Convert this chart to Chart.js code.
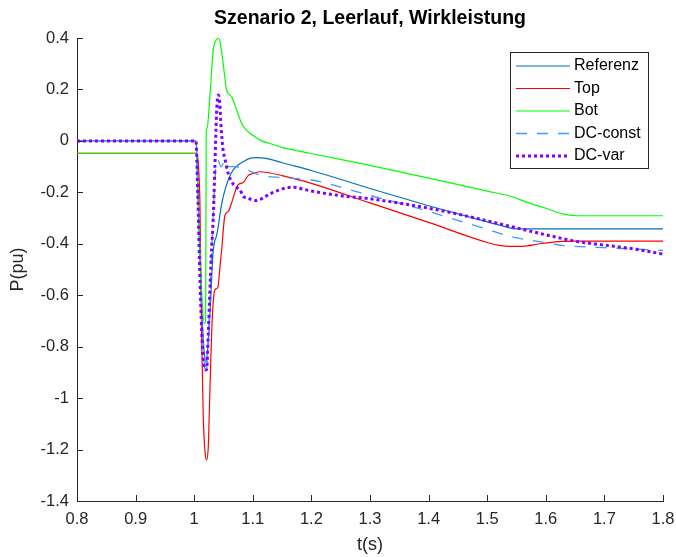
<!DOCTYPE html>
<html>
<head>
<meta charset="utf-8">
<script src="https://cdn.jsdelivr.net/npm/chart.js@4.4.0/dist/chart.umd.min.js"></script>
<style>
  html, body { margin: 0; padding: 0; background: #fff; }
  #wrap { width: 676px; height: 557px; }
</style>
</head>
<body>
<div id="wrap"><canvas id="c" width="676" height="557"></canvas></div>
<script>
// Labels
const titleText = 'Szenario 2, Leerlauf, Wirkleistung';
const xAxisLabel = 't(s)';
const yAxisLabel = 'P(pu)';
const seriesNames = ['Referenz', 'Top', 'Bot', 'DC-const', 'DC-var'];

// Axis ticks
const xTicks = [0.8, 0.9, 1.0, 1.1, 1.2, 1.3, 1.4, 1.5, 1.6, 1.7, 1.8];
const yTicks = [-1.4, -1.2, -1.0, -0.8, -0.6, -0.4, -0.2, 0, 0.2, 0.4];

// Referenz
const tRef = [0.8, 1.003, 1.007, 1.012, 1.017, 1.020, 1.024, 1.028, 1.032, 1.035, 1.038, 1.041, 1.045, 1.0495, 1.054, 1.058, 1.0666, 1.075, 1.0836, 1.095, 1.105, 1.115, 1.13, 1.15, 1.2, 1.3, 1.4, 1.5, 1.53, 1.55, 1.8];
const pRef = [0, 0, -0.25, -0.6, -0.82, -0.86, -0.78, -0.62, -0.44, -0.39, -0.37, -0.334, -0.27, -0.217, -0.18, -0.152, -0.113, -0.094, -0.081, -0.068, -0.065, -0.066, -0.072, -0.085, -0.115, -0.185, -0.252, -0.315, -0.333, -0.342, -0.342];

// Top
const tTop = [0.8, 1.003, 1.0097, 1.0126, 1.0154, 1.0185, 1.0212, 1.024, 1.0256, 1.0297, 1.0335, 1.037, 1.0404, 1.0435, 1.0468, 1.0524, 1.058, 1.064, 1.0695, 1.075, 1.0836, 1.092, 1.1007, 1.112, 1.125, 1.15, 1.2, 1.3, 1.4, 1.5, 1.52, 1.54, 1.56, 1.59, 1.63, 1.65, 1.8];
const pTop = [-0.048, -0.048, -0.23, -0.75, -1.07, -1.21, -1.24, -1.19, -1.07, -0.75, -0.6, -0.575, -0.57, -0.5, -0.425, -0.29, -0.275, -0.24, -0.2, -0.17, -0.162, -0.135, -0.127, -0.12, -0.123, -0.135, -0.165, -0.241, -0.317, -0.395, -0.406, -0.41, -0.41, -0.40, -0.391, -0.39, -0.39];

// Bot
const tBot = [0.8, 1.003, 1.008, 1.013, 1.0175, 1.0195, 1.0205, 1.022, 1.0268, 1.0324, 1.037, 1.0421, 1.046, 1.0495, 1.0553, 1.06, 1.0638, 1.0724, 1.081, 1.088, 1.095, 1.1036, 1.115, 1.129, 1.15, 1.1974, 1.3, 1.4, 1.5, 1.544, 1.567, 1.6, 1.6325, 1.655, 1.8];
const pBot = [-0.048, -0.048, -0.3, -0.6, -0.71, -0.70, 0.035, 0.05, 0.172, 0.353, 0.39, 0.399, 0.36, 0.30, 0.198, 0.18, 0.172, 0.12, 0.068, 0.045, 0.03, 0.016, 0.0, -0.01, -0.025, -0.048, -0.095, -0.145, -0.195, -0.218, -0.238, -0.262, -0.286, -0.291, -0.291];

// DC-const
const tConst = [0.8, 1.003, 1.007, 1.012, 1.017, 1.020, 1.023, 1.027, 1.0305, 1.0336, 1.037, 1.040, 1.046, 1.053, 1.060, 1.07, 1.08, 1.0916, 1.114, 1.15, 1.2, 1.25, 1.3, 1.374, 1.4875, 1.544, 1.6, 1.63, 1.7, 1.8];
const pConst = [0, 0, -0.25, -0.62, -0.86, -0.905, -0.82, -0.6, -0.4, -0.23, -0.1, -0.075, -0.1, -0.075, -0.1, -0.1, -0.105, -0.114, -0.134, -0.143, -0.152, -0.18, -0.212, -0.257, -0.335, -0.374, -0.396, -0.407, -0.415, -0.426];

// DC-var
const tVar = [0.8, 1.003, 1.006, 1.01, 1.014, 1.0185, 1.0212, 1.024, 1.029, 1.0325, 1.0353, 1.038, 1.041, 1.0435, 1.046, 1.049, 1.0524, 1.058, 1.0638, 1.072, 1.078, 1.0836, 1.092, 1.105, 1.115, 1.13, 1.155, 1.17, 1.185, 1.2, 1.25, 1.3, 1.374, 1.43, 1.4875, 1.544, 1.6, 1.65, 1.7, 1.75, 1.8];
const pVar = [0, 0, -0.2, -0.55, -0.8, -0.89, -0.89, -0.75, -0.45, -0.3, -0.1, 0.1, 0.178, 0.15, 0.05, -0.03, -0.07, -0.126, -0.159, -0.18, -0.19, -0.215, -0.223, -0.232, -0.225, -0.205, -0.184, -0.18, -0.187, -0.195, -0.213, -0.225, -0.251, -0.275, -0.304, -0.335, -0.365, -0.39, -0.405, -0.42, -0.44];

const FONT = '"Liberation Sans", Arial, Helvetica, sans-serif';
const AXIS_COLOR = '#262626';

const pts = (t, p) => t.map((x, i) => ({ x: x, y: p[i] }));

function series(label, t, p, color, width, dash, order) {
  return {
    label: label,
    data: pts(t, p),
    borderColor: color,
    backgroundColor: color,
    borderWidth: width,
    borderDash: dash,
    borderCapStyle: 'butt',
    pointRadius: 0,
    pointHoverRadius: 0,
    fill: false,
    showLine: true,
    cubicInterpolationMode: 'monotone',
    order: order
  };
}

const datasets = [
  series(seriesNames[0], tRef, pRef, '#0072BD', 1.2, [], 5),
  series(seriesNames[1], tTop, pTop, '#FF0000', 1.2, [], 4),
  series(seriesNames[2], tBot, pBot, '#00FF00', 1.2, [], 3),
  series(seriesNames[3], tConst, pConst, '#3D9BFF', 1.3, [11, 10], 2),
  series(seriesNames[4], tVar, pVar, '#8000FF', 3, [3, 3], 1)
];

const fmt = v => String(+Number(v).toFixed(1));

// Inward tick marks, axis titles, plot title and a boxed legend
const decorations = {
  id: 'decorations',
  afterDatasetsDraw(chart) {
    const ctx = chart.ctx;
    const xs = chart.scales.x, ys = chart.scales.y;
    const area = chart.chartArea;
    ctx.save();
    ctx.strokeStyle = AXIS_COLOR;
    ctx.lineWidth = 1;
    ctx.beginPath();
    xTicks.forEach(v => {
      const px = Math.round(xs.getPixelForValue(v)) + 0.5;
      ctx.moveTo(px, area.bottom);
      ctx.lineTo(px, area.bottom - 6);
    });
    yTicks.forEach(v => {
      const py = Math.round(ys.getPixelForValue(v)) + 0.5;
      ctx.moveTo(area.left, py);
      ctx.lineTo(area.left + 6, py);
    });
    ctx.stroke();
    ctx.restore();
  },
  afterDraw(chart) {
    const ctx = chart.ctx;
    const area = chart.chartArea;
    const cx = (area.left + area.right) / 2;
    ctx.save();
    // title
    ctx.fillStyle = '#000';
    ctx.font = 'bold 19.5px ' + FONT;
    ctx.textAlign = 'center';
    ctx.textBaseline = 'middle';
    ctx.fillText(titleText, cx, 19);
    // axis titles
    ctx.fillStyle = AXIS_COLOR;
    ctx.font = '18px ' + FONT;
    ctx.fillText(xAxisLabel, cx, 545);
    ctx.save();
    ctx.translate(18, (area.top + area.bottom) / 2);
    ctx.rotate(-Math.PI / 2);
    ctx.fillText(yAxisLabel, 0, 0);
    ctx.restore();

    // legend
    const bx = 510.5, by = 52.5, bw = 138, bh = 116;
    ctx.fillStyle = '#fff';
    ctx.fillRect(bx, by, bw, bh);
    ctx.strokeStyle = AXIS_COLOR;
    ctx.lineWidth = 1;
    ctx.setLineDash([]);
    ctx.strokeRect(bx, by, bw, bh);
    ctx.font = '16px ' + FONT;
    ctx.textAlign = 'left';
    ctx.textBaseline = 'middle';
    chart.data.datasets.forEach((ds, i) => {
      const y = 66 + i * 22.5;
      ctx.save();
      ctx.strokeStyle = ds.borderColor;
      ctx.lineWidth = ds.borderWidth;
      ctx.lineCap = 'butt';
      ctx.setLineDash(ds.borderDash || []);
      ctx.beginPath();
      ctx.moveTo(516, y);
      ctx.lineTo(570, y);
      ctx.stroke();
      ctx.restore();
      ctx.fillStyle = '#000';
      ctx.fillText(ds.label, 574, y);
    });
    ctx.restore();
  }
};

new Chart(document.getElementById('c'), {
  type: 'scatter',
  data: { datasets: datasets },
  options: {
    responsive: false,
    animation: false,
    events: [],
    layout: { padding: { top: 38, right: 13, left: 0, bottom: 0 } },
    plugins: {
      legend: { display: false },
      title: { display: false },
      tooltip: { enabled: false }
    },
    scales: {
      x: {
        type: 'linear',
        min: 0.8,
        max: 1.8,
        afterBuildTicks: s => { s.ticks = xTicks.map(v => ({ value: v })); },
        afterFit: s => { s.height = 56; s.paddingLeft = 0; s.paddingRight = 0; },
        grid: { display: true, drawOnChartArea: false, drawTicks: false },
        border: { display: true, color: AXIS_COLOR, width: 1 },
        ticks: {
          padding: 9,
          maxRotation: 0,
          autoSkip: false,
          color: AXIS_COLOR,
          font: { family: FONT, size: 16.5 },
          callback: v => fmt(v)
        }
      },
      y: {
        type: 'linear',
        min: -1.4,
        max: 0.4,
        afterBuildTicks: s => { s.ticks = yTicks.map(v => ({ value: v })); },
        afterFit: s => { s.width = 77; s.paddingTop = 0; s.paddingBottom = 0; },
        grid: { display: true, drawOnChartArea: false, drawTicks: false },
        border: { display: true, color: AXIS_COLOR, width: 1 },
        ticks: {
          padding: 8,
          autoSkip: false,
          color: AXIS_COLOR,
          font: { family: FONT, size: 16.5 },
          callback: v => fmt(v)
        }
      }
    }
  },
  plugins: [decorations]
});
</script>
</body>
</html>
